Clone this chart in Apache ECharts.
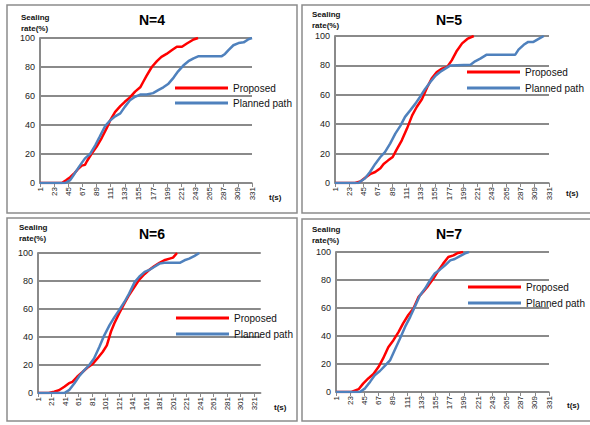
<!DOCTYPE html>
<html>
<head>
<meta charset="utf-8">
<script src="https://cdn.jsdelivr.net/npm/echarts@6/dist/echarts.min.js"></script>
<style>html,body{margin:0;padding:0;background:#fff;}#c{width:590px;height:425px;}</style>
</head>
<body>
<div id="c"></div>
<script>
// Tick labels for the time axis
const ticks22 = [1,23,45,67,89,111,133,155,177,199,221,243,265,287,309,331];
const ticks20 = [1,21,41,61,81,101,121,141,161,181,201,221,241,261,281,301,321];
const seriesNames = ['Proposed', 'Planned path'];
const panelTitles = ['N=4', 'N=5', 'N=6', 'N=7'];

// N=4  [t(s), sealing rate %]
const n4Proposed = [[1,0],[35,0],[42,2],[48,4],[55,7],[61,10],[66,12],[71,12.5],[74,15],[81,20],[89,25],[97,31],[105,38],[110,43],[118,49],[126,53],[133,56],[141,59],[149,63],[157,66],[162,70],[167,74],[175,80],[183,84],[190,87],[198,89],[206,91.5],[214,94],[222,94],[229,96],[240,99],[247,100]];
const n4Planned = [[1,0],[40,0],[48,2],[55,6.6],[63,12],[71,17],[79,20],[87,26],[94,32],[102,39],[110,43],[118,46],[126,48],[133,52.5],[141,57],[149,59.5],[157,61],[167,61],[177,62],[185,64],[193,66],[201,68.5],[209,72.7],[216,77],[224,81],[232,84],[240,86],[248,87.5],[284,87.5],[289,89],[294,91.5],[302,95],[310,96.5],[318,97],[325,99],[331,100]];

// N=5
const n5Proposed = [[1,0],[32,0],[40,1],[47,3.4],[55,6],[63,7.5],[71,10],[76,13],[83,15.4],[90,17.7],[96,22.7],[104,29],[112,37],[120,46],[127,51.7],[135,57],[143,65],[150,71],[158,75.5],[166,77.8],[174,79],[181,83.4],[189,90],[197,95],[205,98],[215,100]];
const n5Planned = [[1,0],[37,0],[47,3],[55,7.5],[63,13],[71,17.7],[78,21],[86,26.8],[94,33.6],[102,39],[109,45],[117,49.4],[125,54],[132,58.5],[140,64],[148,68.7],[156,73],[163,75.5],[171,77.8],[179,80],[210,80.5],[217,82.8],[225,84.6],[235,87.3],[279,87.3],[284,90.7],[292,94],[299,96],[307,96],[315,98],[323,100]];

// N=6
const n6Proposed = [[1,0],[17,0],[25,1],[32,2],[40,4.5],[47,7],[52,8],[59,11.6],[67,15],[74,18],[82,20.7],[89,24.7],[97,29.5],[103,34],[109,43.7],[114,49.6],[121,56.7],[129,64],[136,70],[144,75.8],[151,81],[159,85],[166,88],[173,90.5],[181,93],[188,94.8],[196,96],[201,96.7],[207,100]];
const n6Planned = [[1,0],[40,0],[47,2],[55,7],[62,12],[69,16],[77,20],[84,24.7],[92,33],[99,41],[107,48.5],[114,54],[121,59],[129,65],[136,71],[144,79],[151,83],[159,86.5],[166,88],[173,90],[181,92.4],[188,93],[211,93],[218,94.8],[225,96],[233,98],[240,100]];

// N=7
const n7Proposed = [[1,0],[25,0],[36,2],[43,6],[51,9.7],[59,12.8],[67,18],[74,24],[82,32],[90,37],[98,43],[105,49],[113,55],[121,59.6],[129,68],[136,71.5],[144,76],[152,81],[160,87],[167,91.7],[175,96.4],[183,97.6],[190,99.3],[198,100]];
const n7Planned = [[1,0],[38,0],[46,2.6],[54,7.4],[61,12],[69,15],[77,18.8],[85,22.8],[92,30],[100,38],[108,46.5],[116,53.7],[123,60.8],[131,69],[139,73.9],[147,80],[154,84.6],[162,87.4],[170,90.5],[178,94],[185,95],[193,97],[201,99],[207,100]];

const panelData = [[n4Proposed, n4Planned],[n5Proposed, n5Planned],[n6Proposed, n6Planned],[n7Proposed, n7Planned]];
const panelTicks = [ticks22, ticks22, ticks20, ticks22];

// Layout (pixels)
const grids = [
  {left: 40, top: 38, width: 212, height: 145},
  {left: 335, top: 36, width: 214, height: 147},
  {left: 38, top: 253, width: 222.75, height: 140},
  {left: 336, top: 252, width: 213, height: 140}
];
const frames = [
  {x: 7, y: 5, w: 290, h: 208},
  {x: 302, y: 5, w: 292, h: 208},
  {x: 7, y: 218, w: 290, h: 203},
  {x: 302, y: 219, w: 292, h: 202}
];
const titlePos = [[152, 20], [449, 20], [152, 234], [449, 234]];
const yNamePos = [[21, 12], [312, 9], [19, 222], [312, 224]];
const xNamePos = [[269, 197], [566, 193], [274, 407], [567, 405]];
const legendPos = [
  {left: 175, top: 82, itemGap: 3},
  {left: 467, top: 66, itemGap: 4},
  {left: 176, top: 312, itemGap: 4},
  {left: 468, top: 281, itemGap: 4}
];

const colors = ['#ff0000', '#4f81bd'];
const gridColor = '#8a8a8a';
const fontFam = 'Liberation Sans, Arial, sans-serif';

const xAxes = [], yAxes = [], series = [], legends = [], graphics = [];
for (let i = 0; i < 4; i++) {
  xAxes.push({
    type: 'value', gridIndex: i, min: 1, max: 331,
    axisLine: {show: true, onZero: false, lineStyle: {color: gridColor, width: 1.5}},
    axisTick: {show: true, customValues: panelTicks[i], length: 4, lineStyle: {color: gridColor, width: 1}},
    axisLabel: {customValues: panelTicks[i], rotate: 90, fontSize: 8, color: '#222', margin: 4, fontFamily: fontFam},
    splitLine: {show: false}
  });
  yAxes.push({
    type: 'value', gridIndex: i, min: 0, max: 100, interval: 20,
    axisLine: {show: true, lineStyle: {color: gridColor, width: 2}},
    axisTick: {show: false},
    axisLabel: {fontSize: 9, color: '#222', margin: 5, fontFamily: fontFam},
    splitLine: {show: true, lineStyle: {color: gridColor, width: 2}}
  });
  for (let s = 0; s < 2; s++) {
    series.push({
      type: 'line', name: seriesNames[s], xAxisIndex: i, yAxisIndex: i,
      data: panelData[i][s], symbol: 'none', showSymbol: false,
      lineStyle: {color: colors[s], width: 2.5}, itemStyle: {color: colors[s]},
      z: 3 + s
    });
  }
  legends.push({
    data: seriesNames, orient: 'vertical', left: legendPos[i].left, top: legendPos[i].top,
    itemGap: legendPos[i].itemGap, itemWidth: 53, itemHeight: 3, padding: 0,
    icon: 'rect', selectedMode: false,
    textStyle: {fontSize: 10, lineHeight: 12, color: '#111', fontFamily: fontFam}
  });
  graphics.push({
    type: 'rect', shape: {x: frames[i].x, y: frames[i].y, width: frames[i].w, height: frames[i].h},
    style: {fill: 'none', stroke: '#8c8c8c', lineWidth: 1.5}, z: 0
  });
  graphics.push({
    type: 'text', x: titlePos[i][0], y: titlePos[i][1],
    style: {text: panelTitles[i], font: 'bold 14px ' + fontFam, fill: '#000', align: 'center', verticalAlign: 'middle'}
  });
  graphics.push({
    type: 'text', x: yNamePos[i][0], y: yNamePos[i][1],
    style: {text: 'Sealing\nrate(%)', font: 'bold 8px ' + fontFam, fill: '#111', align: 'left', verticalAlign: 'top', lineHeight: 11}
  });
  graphics.push({
    type: 'text', x: xNamePos[i][0], y: xNamePos[i][1],
    style: {text: 't(s)', font: 'bold 8px ' + fontFam, fill: '#111', align: 'left', verticalAlign: 'middle'}
  });
}

const chart = echarts.init(document.getElementById('c'), null, {renderer: 'svg'});
chart.setOption({
  animation: false,
  backgroundColor: '#fff',
  grid: grids.map(g => Object.assign({containLabel: false}, g)),
  xAxis: xAxes,
  yAxis: yAxes,
  legend: legends,
  series: series,
  graphic: graphics
});
</script>
</body>
</html>
